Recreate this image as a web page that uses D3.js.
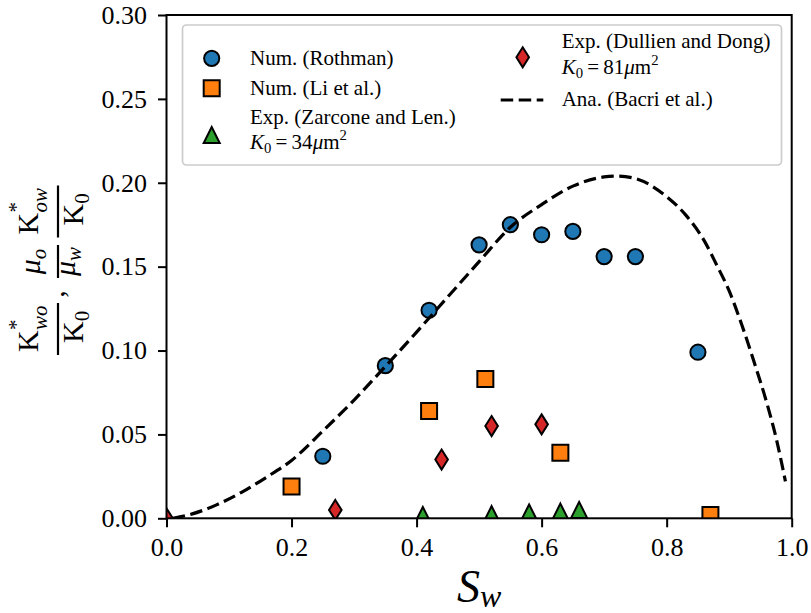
<!DOCTYPE html>
<html>
<head>
<meta charset="utf-8">
<script src="https://cdn.jsdelivr.net/npm/d3@7"></script>
<style>
  body { margin: 0; background: #fff; }
  svg { display: block; font-family: "Liberation Serif", "Times New Roman", serif; }
</style>
</head>
<body>
<svg id="chart" width="811" height="613"></svg>
<script>
// data
const rothS = [0.25, 0.35, 0.42, 0.50, 0.55, 0.60, 0.65, 0.70, 0.75, 0.85];
const rothK = [0.037, 0.091, 0.124, 0.163, 0.175, 0.169, 0.171, 0.156, 0.156, 0.099];
const liS = [0.20, 0.42, 0.51, 0.63, 0.87];
const liK = [0.019, 0.064, 0.083, 0.039, 0.002];
const zarS = [0.41, 0.52, 0.58, 0.63, 0.66];
const zarK = [0.002, 0.0025, 0.0035, 0.004, 0.005];
const dulS = [0.0, 0.27, 0.44, 0.52, 0.60];
const dulK = [0.0, 0.005, 0.035, 0.055, 0.056];
const bacriS = [0.01, 0.04, 0.08, 0.12, 0.16, 0.20, 0.25, 0.30, 0.35, 0.40, 0.45, 0.50, 0.55, 0.60, 0.65,
                0.70, 0.72, 0.75, 0.80, 0.83, 0.86, 0.88, 0.90, 0.92, 0.94, 0.96, 0.975, 0.99];
const bacriK = [0, 0.0025, 0.008, 0.0155, 0.0245, 0.0345, 0.052, 0.0705, 0.0905, 0.111, 0.132, 0.153, 0.1735,
                0.187, 0.198, 0.2035, 0.204, 0.2025, 0.1917, 0.181, 0.1655, 0.151, 0.1355, 0.1155, 0.093,
                0.069, 0.048, 0.022];
const xTicks = [0, 0.2, 0.4, 0.6, 0.8, 1.0];
const yTicks = [0, 0.05, 0.10, 0.15, 0.20, 0.25, 0.30];

const zip = (a, b) => a.map((v, i) => [v, b[i]]);

const svg = d3.select("#chart");
const pLeft = 166.5, pRight = 791.7, pTop = 15, pBottom = 518.3;

const x = d3.scaleLinear().domain([0, 1]).range([pLeft, pRight]);
const y = d3.scaleLinear().domain([0, 0.3]).range([pBottom, pTop]);

svg.append("clipPath").attr("id", "plotClip")
  .append("rect").attr("x", pLeft).attr("y", pTop).attr("width", pRight - pLeft).attr("height", pBottom - pTop);

// marker shapes
const sq = d3.path(); sq.rect(-8, -8, 16, 16); sq.closePath();
const shapes = {
  circle: "M7.6,0A7.6,7.6,0,1,1,-7.6,0A7.6,7.6,0,1,1,7.6,0Z",
  square: sq.toString(),
  triangle: "M0,-8L8,8L-8,8Z",
  diamond: "M0,-10L6.3,0L0,10L-6.3,0Z"
};

const plot = svg.append("g").attr("clip-path", "url(#plotClip)");

function scatter(xs, ys, shape, color) {
  plot.append("g").selectAll("path")
    .data(zip(xs, ys))
    .join("path")
    .attr("d", shapes[shape])
    .attr("transform", d => `translate(${x(d[0])},${y(d[1])})`)
    .attr("fill", color)
    .attr("stroke", "#000")
    .attr("stroke-width", 2);
}

scatter(rothS, rothK, "circle", "#1f77b4");
scatter(liS, liK, "square", "#ff7f0e");
scatter(zarS, zarK, "triangle", "#2ca02c");
scatter(dulS, dulK, "diamond", "#d62728");

const line = d3.line().x(d => x(d[0])).y(d => y(d[1])).curve(d3.curveMonotoneX);
plot.append("path")
  .attr("d", line(zip(bacriS, bacriK)))
  .attr("fill", "none")
  .attr("stroke", "#000")
  .attr("stroke-width", 3.2)
  .attr("stroke-dasharray", "12.5,5.5");

// axes
const xAxis = svg.append("g").attr("transform", `translate(0,${pBottom})`)
  .call(d3.axisBottom(x).tickValues(xTicks).tickFormat(d3.format(".1f"))
    .tickSize(9).tickPadding(10).tickSizeOuter(0));
const yAxis = svg.append("g").attr("transform", `translate(${pLeft},0)`)
  .call(d3.axisLeft(y).tickValues(yTicks).tickFormat(d3.format(".2f"))
    .tickSize(8.5).tickPadding(11).tickSizeOuter(0));

[xAxis, yAxis].forEach(a => {
  a.attr("font-family", "Liberation Serif").attr("font-size", 26);
  a.select(".domain").remove();
  a.selectAll(".tick line").attr("stroke", "#000").attr("stroke-width", 2);
  a.selectAll(".tick text").attr("fill", "#000");
});

svg.append("rect")
  .attr("x", pLeft).attr("y", pTop).attr("width", pRight - pLeft).attr("height", pBottom - pTop)
  .attr("fill", "none").attr("stroke", "#000").attr("stroke-width", 2);

// x label
const xl = svg.append("text").attr("x", (pLeft + pRight) / 2).attr("y", 602)
  .attr("text-anchor", "middle").style("font-size", "46px");
xl.append("tspan").attr("font-style", "italic").text("S");
xl.append("tspan").attr("font-style", "italic").attr("font-size", "32px").attr("dy", 5).text("w");

// y label, drawn in a rotated frame (local x points up the page)
const yl = svg.append("g").attr("transform", "translate(58,270) rotate(-90)")
  .style("font-size", "30px");

function kFrac(cx, sub) {
  // numerator K*_sub
  yl.append("text").attr("x", cx - 23).attr("y", -20).text("K");
  yl.append("text").attr("x", cx - 1).attr("y", -35).style("font-size", "21px").text("*");
  yl.append("text").attr("x", cx - 1).attr("y", -11).style("font-size", "21px")
    .attr("font-style", "italic").text(sub);
  // bar
  yl.append("line").attr("x1", cx - 26).attr("x2", cx + 26).attr("y1", 0).attr("y2", 0)
    .attr("stroke", "#000").attr("stroke-width", 2.2);
  // denominator K_0
  const dn = yl.append("text").attr("x", cx - 14).attr("y", 25);
  dn.append("tspan").text("K");
  dn.append("tspan").style("font-size", "21px").attr("dy", 6).text("0");
}

kFrac(-59, "wo");
yl.append("text").attr("x", -24).attr("y", 6).attr("text-anchor", "middle").text(",");
// mu_o / mu_w
const mn = yl.append("text").attr("x", 8.5).attr("y", -18).attr("text-anchor", "middle");
mn.append("tspan").attr("font-style", "italic").text("μ");
mn.append("tspan").attr("font-style", "italic").style("font-size", "21px").attr("dy", 6).text("o");
yl.append("line").attr("x1", -8).attr("x2", 25).attr("y1", 0).attr("y2", 0)
  .attr("stroke", "#000").attr("stroke-width", 2.2);
const md = yl.append("text").attr("x", 8.5).attr("y", 17).attr("text-anchor", "middle");
md.append("tspan").attr("font-style", "italic").text("μ");
md.append("tspan").attr("font-style", "italic").style("font-size", "21px").attr("dy", 6).text("w");
kFrac(58.5, "ow");

// legend
const lg = svg.append("g").style("font-size", "21px");
lg.append("rect").attr("x", 182.5).attr("y", 25).attr("width", 599).attr("height", 140).attr("rx", 4)
  .attr("fill", "#fff").attr("fill-opacity", 0.8).attr("stroke", "#cccccc").attr("stroke-width", 1.7);

function legMarker(cx, cy, shape, color) {
  lg.append("path").attr("d", shapes[shape]).attr("transform", `translate(${cx},${cy})`)
    .attr("fill", color).attr("stroke", "#000").attr("stroke-width", 2);
}
function legText(tx, ty, s) {
  lg.append("text").attr("x", tx).attr("y", ty).text(s);
}
function legK0(tx, ty, num) {
  const t = lg.append("text").attr("x", tx).attr("y", ty);
  t.append("tspan").attr("font-style", "italic").text("K");
  t.append("tspan").style("font-size", "14.7px").attr("dy", 4).text("0");
  t.append("tspan").attr("dy", -4).text("\u2009=\u2009" + num);
  t.append("tspan").attr("font-style", "italic").text("μ");
  t.append("tspan").text("m");
  t.append("tspan").style("font-size", "14.7px").attr("dy", -9).text("2");
}

legMarker(211.7, 58.3, "circle", "#1f77b4");
legText(250, 65, "Num. (Rothman)");
legMarker(211.7, 88.3, "square", "#ff7f0e");
legText(250, 95, "Num. (Li et al.)");
legMarker(211.7, 135, "triangle", "#2ca02c");
legText(250, 124, "Exp. (Zarcone and Len.)");
legK0(250, 149, "34");

legMarker(522.7, 57.3, "diamond", "#d62728");
legText(561.7, 48, "Exp. (Dullien and Dong)");
legK0(561.7, 74, "81");
lg.append("line").attr("x1", 500.7).attr("x2", 543.3).attr("y1", 100).attr("y2", 100)
  .attr("stroke", "#000").attr("stroke-width", 3.2).attr("stroke-dasharray", "12.5,5.5");
legText(561.7, 106, "Ana. (Bacri et al.)");
</script>
</body>
</html>
